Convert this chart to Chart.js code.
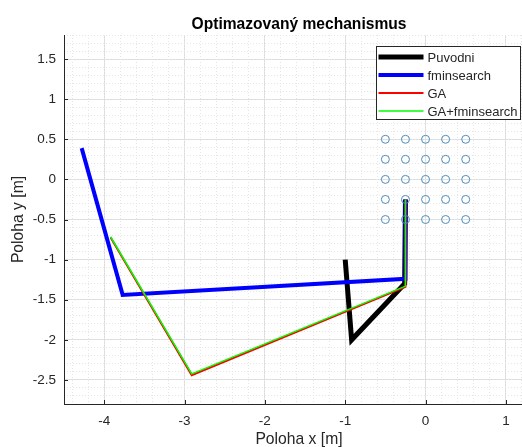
<!DOCTYPE html>
<html>
<head>
<meta charset="utf-8">
<script src="https://cdn.jsdelivr.net/npm/chart.js@4"></script>
<style>
  html, body { margin: 0; padding: 0; background: #fff; }
  #wrap { width: 522px; height: 447px; overflow: hidden; }
  canvas { display: block; }
</style>
</head>
<body>
<div id="wrap"><canvas id="mech" width="539" height="450"></canvas></div>
<script>
// tick labels
const xTicks = [-4, -3, -2, -1, 0, 1];
const yTicks = [-2.5, -2, -1.5, -1, -0.5, 0, 0.5, 1, 1.5];

// mechanism joints (x, y)
const puvodniX = [-1.0, -0.92, -0.26, -0.25];
const puvodniY = [-1.0, -2.0, -1.3, -0.25];

const fminX = [-4.28, -3.77, -0.25, -0.25];
const fminY = [0.39, -1.44, -1.24, -0.25];

const gaX = [-3.92, -2.91, -0.25, -0.25];
const gaY = [-0.725, -2.44, -1.34, -0.25];

const gaFminX = [-3.92, -2.91, -0.25, -0.25];
const gaFminY = [-0.715, -2.425, -1.33, -0.25];

// target point grid
const gridX = [-0.5, -0.25, 0, 0.25, 0.5];
const gridY = [0.5, 0.25, 0, -0.25, -0.5];

const font = '"Liberation Sans", Arial, sans-serif';
const axisColor = '#262626';

const toPoints = (xs, ys) => xs.map((x, i) => ({ x, y: ys[i] }));
const gridPoints = [];
gridY.forEach(y => gridX.forEach(x => gridPoints.push({ x, y })));

const lineSet = (label, xs, ys, color, width, order) => ({
    label,
    data: toPoints(xs, ys),
    showLine: true,
    borderColor: color,
    backgroundColor: color,
    borderWidth: width,
    pointRadius: 0,
    order,
    inLegend: true
});

// MATLAB-like inward tick marks on bottom and left axes
const tickMarks = {
    id: 'tickMarks',
    afterDatasetsDraw(chart) {
        const { ctx, chartArea, scales } = chart;
        ctx.save();
        ctx.strokeStyle = axisColor;
        ctx.lineWidth = 1;
        ctx.beginPath();
        xTicks.forEach(v => {
            const px = Math.round(scales.x.getPixelForValue(v)) + 0.5;
            ctx.moveTo(px, chartArea.bottom);
            ctx.lineTo(px, chartArea.bottom - 4);
        });
        yTicks.forEach(v => {
            const py = Math.round(scales.y.getPixelForValue(v)) + 0.5;
            ctx.moveTo(chartArea.left, py);
            ctx.lineTo(chartArea.left + 4, py);
        });
        ctx.stroke();
        ctx.restore();
    }
};

// boxed legend in the upper right corner
const boxLegend = {
    id: 'boxLegend',
    afterDraw(chart) {
        const { ctx } = chart;
        const items = chart.data.datasets.filter(d => d.inLegend);
        const left = 376.5, top = 46.5, w = 144, h = 73;
        ctx.save();
        ctx.fillStyle = '#fff';
        ctx.fillRect(left, top, w, h);
        ctx.strokeStyle = axisColor;
        ctx.lineWidth = 1;
        ctx.strokeRect(left, top, w, h);
        ctx.font = '13px ' + font;
        ctx.textBaseline = 'middle';
        items.forEach((d, i) => {
            const y = top + 10.5 + i * 18;
            ctx.strokeStyle = d.borderColor;
            ctx.lineWidth = d.borderWidth;
            ctx.beginPath();
            ctx.moveTo(left + 2, y);
            ctx.lineTo(left + 47, y);
            ctx.stroke();
            ctx.fillStyle = axisColor;
            ctx.fillText(d.label, left + 51, y + 1);
        });
        ctx.restore();
    }
};

new Chart(document.getElementById('mech'), {
    type: 'scatter',
    data: {
        datasets: [
            {
                label: 'body',
                data: gridPoints,
                showLine: false,
                pointStyle: 'circle',
                pointRadius: 4,
                pointBorderWidth: 1,
                pointBorderColor: '#4a8cb9',
                pointBackgroundColor: 'rgba(0,0,0,0)',
                order: 1
            },
            lineSet('Puvodni', puvodniX, puvodniY, '#000000', 5, 5),
            lineSet('fminsearch', fminX, fminY, '#0000ff', 4, 4),
            lineSet('GA', gaX, gaY, '#ff0000', 2, 3),
            lineSet('GA+fminsearch', gaFminX, gaFminY, '#00ff00', 1.5, 2)
        ]
    },
    options: {
        responsive: false,
        animation: false,
        devicePixelRatio: 1,
        layout: { padding: 0 },
        plugins: {
            legend: { display: false },
            tooltip: { enabled: false }
        },
        scales: {
            x: {
                type: 'linear',
                position: 'bottom',
                min: -4.5,
                max: 1.35,
                afterBuildTicks: s => { s.ticks = xTicks.map(v => ({ value: v })); },
                afterFit: s => { s.height = 46; },
                grid: { color: '#dcdcdc', drawTicks: false },
                border: { display: true, color: axisColor, width: 1 },
                ticks: {
                    color: axisColor,
                    font: { family: font, size: 13.5 },
                    padding: 9,
                    maxRotation: 0,
                    callback: v => String(v)
                },
                title: {
                    display: true,
                    text: 'Poloha x [m]',
                    color: axisColor,
                    font: { family: font, size: 15.7 },
                    padding: { top: 0, bottom: 1 }
                }
            },
            y: {
                type: 'linear',
                position: 'left',
                min: -2.8,
                max: 1.8,
                afterBuildTicks: s => { s.ticks = yTicks.map(v => ({ value: v })); },
                afterFit: s => { s.width = 64; },
                grid: { color: '#dcdcdc', drawTicks: false },
                border: { display: true, color: axisColor, width: 1 },
                ticks: {
                    color: axisColor,
                    font: { family: font, size: 13.5 },
                    padding: 8,
                    callback: v => String(v)
                },
                title: {
                    display: true,
                    text: 'Poloha y [m]',
                    color: axisColor,
                    font: { family: font, size: 15.7 },
                    padding: { top: 9, bottom: 0 }
                }
            },
            // minor grid + title along the top
            x2: {
                type: 'linear',
                position: 'top',
                min: -4.5,
                max: 1.35,
                afterFit: s => { s.height = 35; },
                grid: { color: '#e6e6e6', drawTicks: false },
                border: { display: false, dash: [1, 2] },
                ticks: { display: false, stepSize: 0.2, includeBounds: false },
                title: {
                    display: true,
                    text: 'Optimazovaný mechanismus',
                    color: '#000',
                    font: { family: font, size: 15.6, weight: 'bold' },
                    padding: { top: 15, bottom: 0 }
                }
            },
            y2: {
                type: 'linear',
                position: 'right',
                min: -2.8,
                max: 1.8,
                afterFit: s => { s.width = 0; },
                grid: { color: '#e6e6e6', drawTicks: false },
                border: { display: false, dash: [1, 2] },
                ticks: { display: false, stepSize: 0.1, includeBounds: false }
            }
        }
    },
    plugins: [tickMarks, boxLegend]
});
</script>
</body>
</html>
